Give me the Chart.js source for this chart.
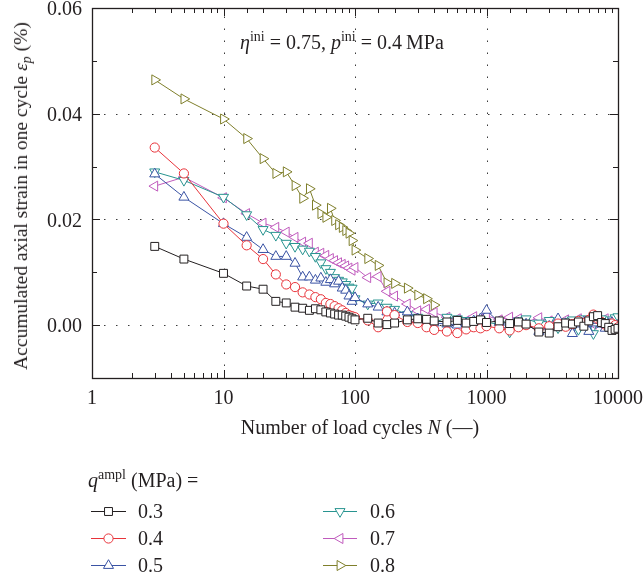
<!DOCTYPE html>
<html>
<head>
<meta charset="utf-8">
<script src="https://cdn.jsdelivr.net/npm/chart.js@4.4.1/dist/chart.umd.min.js"></script>
<style>
  html, body { margin: 0; padding: 0; background: #fff; }
  #wrap { position: relative; width: 643px; height: 580px; font-family: "Liberation Serif", "DejaVu Serif", serif; color: #231f20; }
  #c { position: absolute; left: 0; top: 0; }
  .t { position: absolute; white-space: nowrap; font-size: 20px; line-height: 22px; }
  .t sup { font-size: 14px; vertical-align: 0; position: relative; top: -8px; }
  .t sub { font-size: 14px; vertical-align: 0; position: relative; top: 4px; }
</style>
</head>
<body>
<div id="wrap">
  <canvas id="c" width="643" height="580"></canvas>
  <div class="t" id="ann" style="left:240px; top:31px;"><i>η</i><sup>ini</sup> = 0.75, <i>p</i><sup>ini</sup> = 0.4&#8201;MPa</div>
  <div class="t" id="ytitle" style="left:22px; top:196px; font-size:19.5px; transform: translate(-50%,-50%) rotate(-90deg);">Accumulated axial strain in one cycle <i>ε<sub>p</sub></i> (%)</div>
  <div class="t" id="xtitle" style="left:360px; top:416px; transform: translateX(-50%);">Number of load cycles <i>N</i> (—)</div>
  <div class="t" id="ltitle" style="left:88px; top:469px;"><i>q</i><sup>ampl</sup> (MPa) =</div>
  <div class="t" style="left:138px; top:500px;">0.3</div>
  <div class="t" style="left:138px; top:527px;">0.4</div>
  <div class="t" style="left:138px; top:554px;">0.5</div>
  <div class="t" style="left:370px; top:500px;">0.6</div>
  <div class="t" style="left:370px; top:527px;">0.7</div>
  <div class="t" style="left:370px; top:554px;">0.8</div>
</div>
<script>
// ---- data ----
const cycles = [3,5,10,15,20,25,30,35,40,45,50,55,60,65,70,75,80,85,90,95,100,
  125,150,175,200,250,300,350,400,
  500,600,700,800,900,1000,
  1250,1500,1750,2000,
  2500,3000,3500,4000,4500,5000,5500,6000,6500,7000,7500,8000,8500,9000,9500,10000];

const seriesLabels = ["0.3", "0.4", "0.5", "0.6", "0.7", "0.8"];

const q03 = [0.0149,0.0125,0.0098,0.0074,0.0068,0.0045,0.0042,0.0034,0.0032,0.0028,0.0031,0.0029,0.0025,0.0023,0.0021,0.0019,0.0019,0.0017,0.0015,0.0012,0.0010,
  0.0013,0.0004,0.0001,0.0004,0.0010,0.0012,0.0011,0.0008,
  0.0006,0.0009,0.0004,0.0007,0.0010,0.0005,
  0.0008,0.0003,0.0006,0.0002,
  -0.0013,-0.0015,-0.0003,0.0004,0.0002,0.0006,-0.0002,0.0008,0.0016,0.0018,0.0005,0.0003,-0.0004,-0.0010,-0.0008,-0.0006];

const q04 = [0.0336,0.0287,0.0192,0.0151,0.0125,0.0096,0.0077,0.0072,0.0062,0.0058,0.0053,0.0049,0.0042,0.0040,0.0036,0.0032,0.0028,0.0023,0.0019,0.0017,0.0015,
  0.0009,-0.0004,0.0026,0.0019,0.0006,0.0004,-0.0004,-0.0009,
  -0.0012,-0.0015,-0.0008,-0.0004,-0.0006,-0.0002,
  -0.0006,-0.0010,-0.0004,0.0000,
  -0.0006,-0.0002,0.0003,-0.0003,0.0002,0.0008,0.0004,0.0010,0.0020,0.0012,0.0006,0.0001,-0.0002,0.0003,0.0000,-0.0004];

const q05 = [0.0286,0.0242,0.0192,0.0166,0.0143,0.0130,0.0130,0.0117,0.0091,0.0091,0.0085,0.0089,0.0081,0.0086,0.0078,0.0083,0.0070,0.0066,0.0055,0.0045,0.0052,
  0.0040,0.0034,0.0025,0.0023,0.0025,0.0012,0.0008,0.0004,
  0.0002,0.0000,0.0003,0.0008,0.0012,0.0028,
  0.0005,0.0000,0.0004,0.0002,
  -0.0012,-0.0002,0.0012,0.0003,-0.0016,0.0002,0.0006,-0.0012,0.0004,0.0009,0.0002,-0.0006,0.0003,0.0005,-0.0003,0.0000];

const q06 = [0.0290,0.0274,0.0242,0.0209,0.0181,0.0170,0.0155,0.0149,0.0144,0.0140,0.0130,0.0118,0.0107,0.0100,0.0090,0.0085,0.0082,0.0077,0.0072,0.0070,0.0050,
  0.0040,0.0042,0.0034,0.0030,0.0020,0.0015,0.0008,0.0004,
  0.0015,0.0012,0.0009,0.0006,0.0010,0.0005,
  0.0002,-0.0013,0.0008,0.0012,
  0.0004,0.0009,-0.0005,0.0006,0.0010,-0.0008,0.0012,0.0004,-0.0016,0.0006,0.0012,0.0002,-0.0004,0.0010,0.0014,0.0016];

const q07 = [0.0263,0.0280,0.0241,0.0211,0.0193,0.0185,0.0176,0.0166,0.0157,0.0155,0.0138,0.0136,0.0132,0.0126,0.0122,0.0118,0.0115,0.0112,0.0108,0.0104,0.0109,
  0.0090,0.0092,0.0064,0.0055,0.0040,0.0027,0.0030,0.0024,
  0.0015,0.0012,0.0008,0.0016,0.0012,0.0018,
  0.0010,0.0015,0.0012,0.0006,
  0.0014,0.0008,0.0003,0.0010,0.0004,0.0012,0.0000,0.0010,0.0002,0.0011,0.0001,0.0012,0.0002,0.0010,0.0000,0.0008];

const q08 = [0.0464,0.0428,0.0390,0.0353,0.0315,0.0287,0.0290,0.0264,0.0240,0.0258,0.0227,0.0211,0.0204,0.0221,0.0198,0.0190,0.0185,0.0179,0.0174,0.0160,0.0142,
  0.0126,0.0113,0.0080,0.0079,0.0070,0.0057,0.0050,0.0038];

const xTickLabels = [1, 10, 100, 1000, 10000];
const yTickLabels = [0.00, 0.02, 0.04, 0.06];

// ---- styles ----
const colors = ['#231f20', '#e8333a', '#3a53a4', '#289490', '#c05bbd', '#7f7f2b'];
const styles = [
  {pointStyle: 'rect', radius: 5.6, rotation: 0},
  {pointStyle: 'circle', radius: 4.6, rotation: 0},
  {pointStyle: 'triangle', radius: 5.8, rotation: 0},
  {pointStyle: 'triangle', radius: 5.8, rotation: 180},
  {pointStyle: 'triangle', radius: 5.8, rotation: 270},
  {pointStyle: 'triangle', radius: 5.8, rotation: 90}
];
const allSeries = [q03, q04, q05, q06, q07, q08];

const datasets = allSeries.map((vals, i) => ({
  label: seriesLabels[i],
  data: vals.map((v, j) => ({x: cycles[j], y: v})),
  borderColor: colors[i],
  backgroundColor: '#ffffff',
  borderWidth: 1,
  pointStyle: styles[i].pointStyle,
  pointRadius: styles[i].radius,
  pointRotation: styles[i].rotation,
  pointBorderWidth: 1,
  pointBorderColor: colors[i],
  pointBackgroundColor: '#ffffff',
  fill: false,
  tension: 0
}));

const FONT = '"Liberation Serif", "DejaVu Serif", serif';
const isPow10 = v => v > 0 && Math.abs(Math.log10(v) - Math.round(Math.log10(v))) < 1e-9;
const near = (a, b) => Math.abs(a - b) < 1e-9;

const framePlugin = {
  id: 'frame',
  beforeDatasetsDraw(chart) {
    const {ctx, chartArea: a, scales: {x, y}} = chart;
    ctx.save();
    const line = (x1, y1, x2, y2) => { ctx.beginPath(); ctx.moveTo(x1, y1); ctx.lineTo(x2, y2); ctx.stroke(); };
    ctx.strokeStyle = '#3a3a3a';
    ctx.lineWidth = 1;
    ctx.setLineDash([1.5, 10.5]);
    x.ticks.forEach(t => {
      if (xTickLabels.some(v => near(v, t.value)) && t.value > x.min && t.value < x.max) {
        const px = Math.round(x.getPixelForValue(t.value)) + 0.5;
        line(px, a.bottom, px, a.top);
      }
    });
    y.ticks.forEach(t => {
      if (yTickLabels.some(v => near(v, t.value)) && t.value > y.min + 1e-9 && t.value < y.max - 1e-9) {
        const py = Math.round(y.getPixelForValue(t.value)) + 0.5;
        line(a.left, py, a.right, py);
      }
    });
    ctx.setLineDash([]);
    ctx.strokeStyle = '#231f20';
    ctx.lineWidth = 1;
    x.ticks.forEach(t => {
      const px = Math.round(x.getPixelForValue(t.value)) + 0.5;
      const len = isPow10(t.value) ? 8 : 5;
      line(px, a.bottom, px, a.bottom - len);
      line(px, a.top, px, a.top + len);
    });
    y.ticks.forEach(t => {
      const py = Math.round(y.getPixelForValue(t.value)) + 0.5;
      const major = yTickLabels.some(v => near(v, t.value));
      const len = major ? 8 : 5;
      line(a.left, py, a.left + len, py);
      line(a.right, py, a.right - len, py);
    });
    ctx.restore();
  },
  afterDatasetsDraw(chart) {
    const {ctx, chartArea: a} = chart;
    ctx.save();
    ctx.strokeStyle = '#231f20';
    ctx.lineWidth = 1.3;
    ctx.strokeRect(Math.round(a.left) + 0.5, Math.round(a.top) + 0.5, Math.round(a.right - a.left), Math.round(a.bottom - a.top));
    ctx.restore();
  }
};

const legendSymbols = {
  id: 'legendSymbols',
  afterDraw(chart) {
    const ctx = chart.ctx;
    const rows = [511, 538, 565];
    const cols = [{x1: 91, x2: 126}, {x1: 323, x2: 357}];
    chart.data.datasets.forEach((ds, i) => {
      const c = cols[Math.floor(i / 3)];
      const yy = rows[i % 3] + 0.5;
      ctx.save();
      ctx.strokeStyle = ds.borderColor;
      ctx.lineWidth = 1;
      ctx.beginPath(); ctx.moveTo(c.x1, yy); ctx.lineTo(c.x2, yy); ctx.stroke();
      ctx.fillStyle = '#ffffff';
      ctx.strokeStyle = ds.borderColor;
      const cx = (c.x1 + c.x2) / 2;
      Chart.helpers.drawPoint(ctx, {pointStyle: ds.pointStyle, radius: ds.pointRadius, rotation: ds.pointRotation, borderWidth: 1}, cx, yy);
      ctx.restore();
    });
  }
};

new Chart(document.getElementById('c'), {
  type: 'line',
  data: {datasets},
  options: {
    responsive: false,
    animation: false,
    devicePixelRatio: 1,
    layout: {padding: {left: 0, right: 25, top: 8, bottom: 162}},
    plugins: {legend: {display: false}, tooltip: {enabled: false}, title: {display: false}},
    scales: {
      x: {
        type: 'logarithmic',
        position: 'bottom',
        min: 1, max: 10000,
        grid: {display: false, drawTicks: false},
        border: {display: false},
        ticks: {
          autoSkip: false, maxRotation: 0, minRotation: 0, padding: 9,
          color: '#231f20',
          font: {family: FONT, size: 20},
          callback: (v) => xTickLabels.some(t => near(t, v)) ? String(v) : ''
        },
        afterFit: (s) => { s.height = 40; s.paddingLeft = 0; s.paddingRight = 0; }
      },
      y: {
        type: 'linear',
        position: 'left',
        min: -0.01, max: 0.06,
        grid: {display: false, drawTicks: false},
        border: {display: false},
        ticks: {
          stepSize: 0.01, padding: 10, labelOffset: 2,
          color: '#231f20',
          font: {family: FONT, size: 20},
          callback: (v) => {
            const hit = yTickLabels.find(t => near(t, v));
            return hit === undefined ? '' : Math.abs(hit).toFixed(2);
          }
        },
        afterFit: (s) => { s.width = 92; s.paddingTop = 0; s.paddingBottom = 0; }
      }
    }
  },
  plugins: [framePlugin, legendSymbols]
});
</script>
</body>
</html>
